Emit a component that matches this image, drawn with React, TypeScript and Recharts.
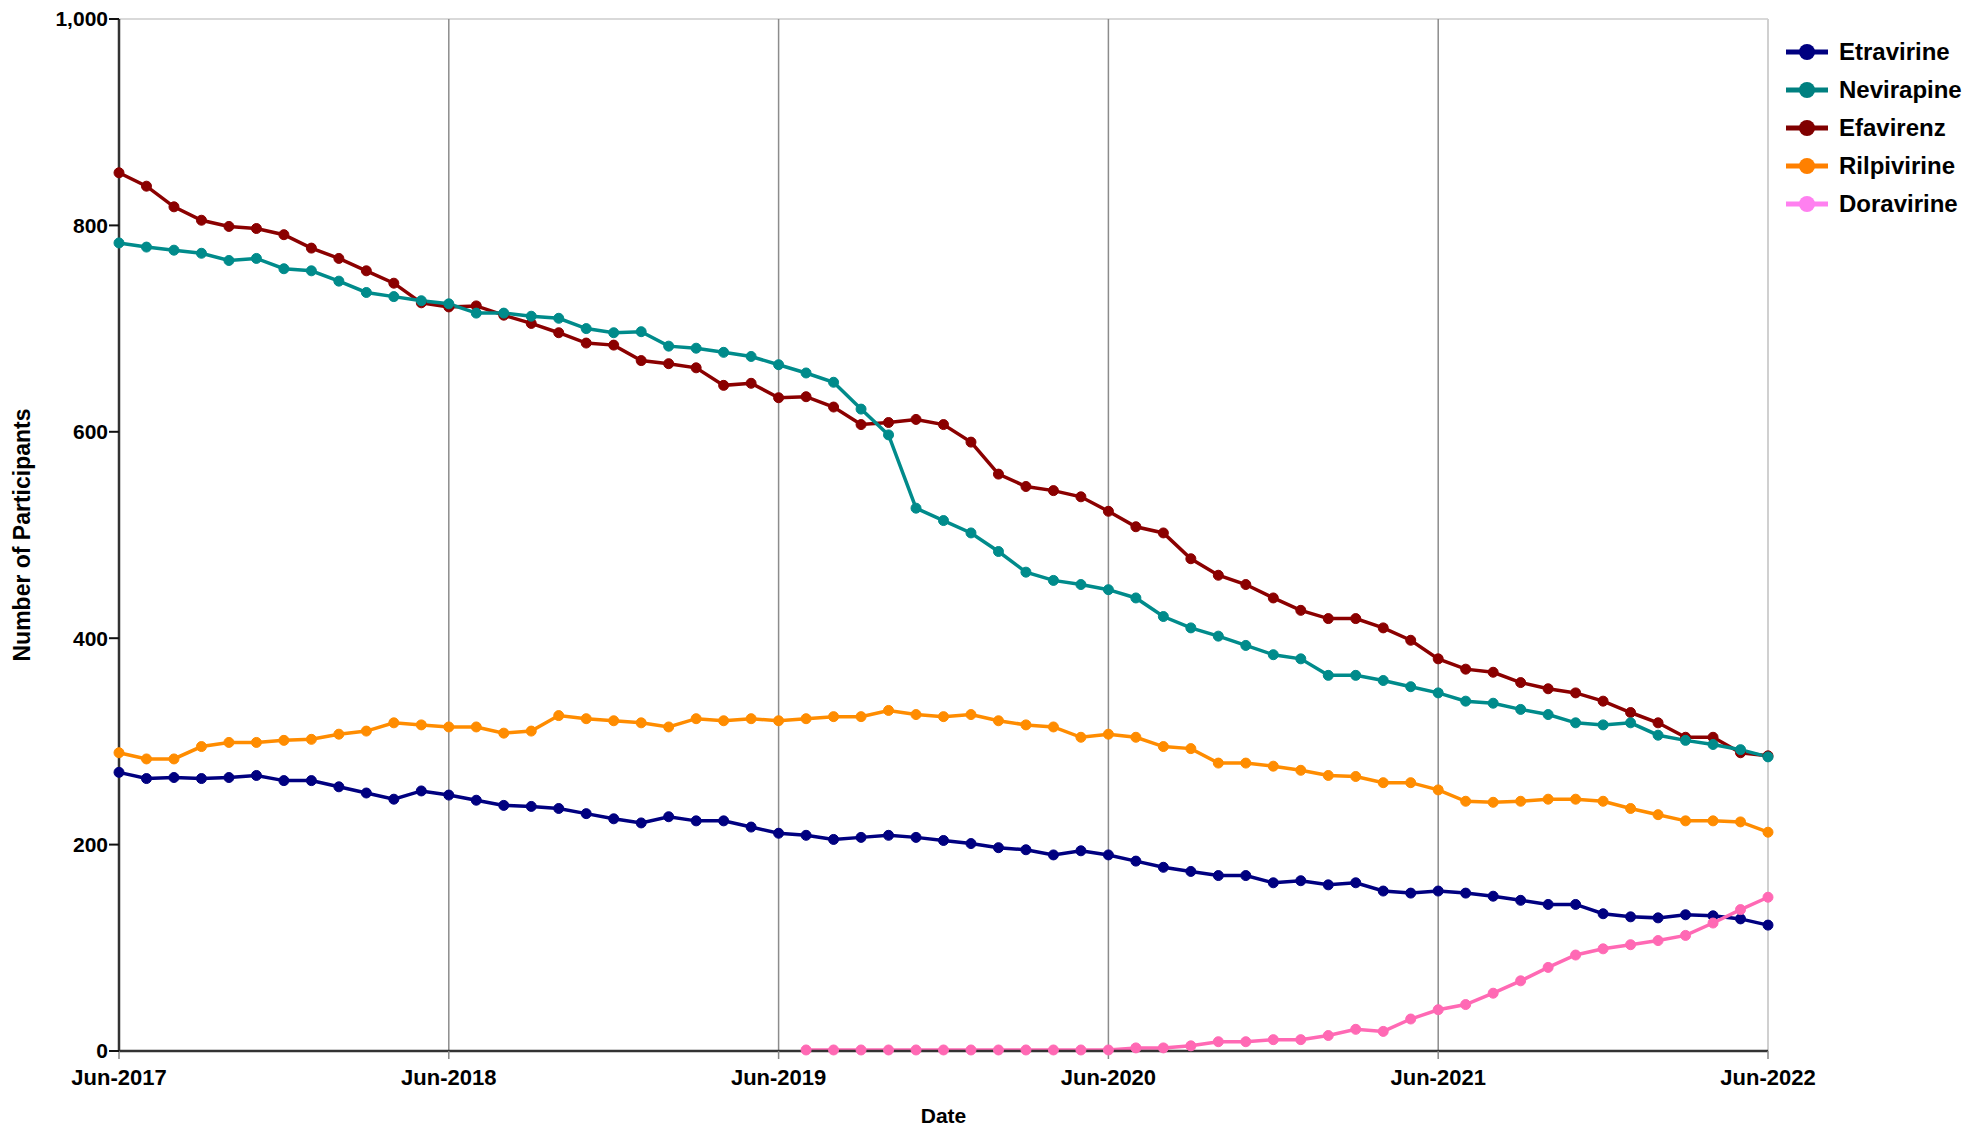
import React from 'react';
import { LineChart, Line, XAxis, YAxis, ReferenceLine, Legend } from 'recharts';

const FONT = '"Liberation Sans", Arial, Helvetica, sans-serif';

const monthNames = ['Jan', 'Feb', 'Mar', 'Apr', 'May', 'Jun', 'Jul', 'Aug', 'Sep', 'Oct', 'Nov', 'Dec'];
// Monthly categories Jun-2017 .. Jun-2022
const dates: string[] = [];
for (let i = 0; i <= 60; i++) {
  const m = (5 + i) % 12;
  const y = 2017 + Math.floor((5 + i) / 12);
  dates.push(`${monthNames[m]}-${y}`);
}

const xTicks = [0, 12, 24, 36, 48, 60];
const xTickLabels = ['Jun-2017', 'Jun-2018', 'Jun-2019', 'Jun-2020', 'Jun-2021', 'Jun-2022'];
const yTicks = [0, 200, 400, 600, 800, 1000];

const etravirine = [
  270, 264, 265, 264, 265, 267, 262, 262, 256, 250, 244, 252, 248, 243, 238, 237, 235, 230, 225, 221, 227, 223, 223, 217, 211,
  209, 205, 207, 209, 207, 204, 201, 197, 195, 190, 194, 190,
  184, 178, 174, 170, 170, 163, 165, 161, 163, 155, 153, 155,
  153, 150, 146, 142, 142, 133, 130, 129, 132, 131, 128, 122,
];

const nevirapine = [
  783, 779, 776, 773, 766, 768, 758, 756, 746, 735, 731, 727, 724, 715, 715, 712, 710,
  700, 696, 697, 683, 681, 677, 673, 665, 657, 648, 622, 597, 526, 514, 502,
  484, 464, 456, 452, 447, 439, 421, 410, 402, 393, 384, 380, 364, 364, 359, 353, 347,
  339, 337, 331, 326, 318, 316, 318, 306, 301, 297, 292, 285,
];

const efavirenz = [
  851, 838, 818, 805, 799, 797, 791, 778, 768, 756, 744, 725, 721, 722, 713, 705, 696,
  686, 684, 669, 666, 662, 645, 647, 633, 634, 624, 607, 609, 612, 607, 590,
  559, 547, 543, 537, 523, 508, 502, 477, 461, 452, 439, 427, 419, 419, 410, 398, 380,
  370, 367, 357, 351, 347, 339, 328, 318, 304, 304, 289, 286,
];

const rilpivirine = [
  289, 283, 283, 295, 299, 299, 301, 302, 307, 310, 318, 316, 314, 314, 308, 310, 325, 322, 320, 318, 314, 322, 320, 322, 320,
  322, 324, 324, 330, 326, 324, 326, 320, 316, 314, 304, 307, 304, 295, 293, 279, 279, 276, 272, 267, 266, 260, 260, 253,
  242, 241, 242, 244, 244, 242, 235, 229, 223, 223, 222, 212,
];

const doravirine: (number | null)[] = [
  null, null, null, null, null, null, null, null, null, null, null, null, null,
  null, null, null, null, null, null, null, null, null, null, null, null,
  1, 1, 1, 1, 1, 1, 1, 1, 1, 1, 1, 1,
  3, 3, 5, 9, 9, 11, 11, 15, 21, 19, 31, 40,
  45, 56, 68, 81, 93, 99, 103, 107, 112, 124, 137, 149,
];

const seriesNames = ['Etravirine', 'Nevirapine', 'Efavirenz', 'Rilpivirine', 'Doravirine'];
const seriesColors: Record<string, string> = {
  Etravirine: '#000080',
  Nevirapine: '#008B8B',
  Efavirenz: '#8B0000',
  Rilpivirine: '#FF8C00',
  Doravirine: '#FF69B4',
};
const legendColors: Record<string, string> = {
  Etravirine: '#000080',
  Nevirapine: '#008080',
  Efavirenz: '#800000',
  Rilpivirine: '#FF8000',
  Doravirine: '#FF80F0',
};
const drawOrder = ['Etravirine', 'Efavirenz', 'Nevirapine', 'Rilpivirine', 'Doravirine'];

const seriesValues: Record<string, (number | null)[]> = {
  Etravirine: etravirine,
  Nevirapine: nevirapine,
  Efavirenz: efavirenz,
  Rilpivirine: rilpivirine,
  Doravirine: doravirine,
};

const data = dates.map((d, i) => {
  const row: any = { idx: i, date: d };
  seriesNames.forEach((s) => {
    row[s] = seriesValues[s][i];
  });
  return row;
});

const LegendContent = () => (
  <div style={{ fontFamily: FONT }}>
    {seriesNames.map((s) => (
      <div key={s} style={{ display: 'flex', alignItems: 'center', height: 38 }}>
        <svg width={46} height={20} style={{ display: 'block' }}>
          <line x1={2} y1={10} x2={44} y2={10} stroke={legendColors[s]} strokeWidth={5} />
          <circle cx={23} cy={10} r={8} fill={legendColors[s]} />
        </svg>
        <span style={{ marginLeft: 9, fontSize: 24, fontWeight: 'bold', color: '#000', lineHeight: '38px', whiteSpace: 'nowrap' }}>{s}</span>
      </div>
    ))}
  </div>
);

const tickStyle = { fill: '#000', fontSize: 22, fontWeight: 'bold' as const, fontFamily: FONT };

export default function App() {
  return (
    <div style={{ position: 'absolute', left: 0, top: 0, width: 1986, height: 1128, background: '#fff' }}>
      <LineChart width={1986} height={1128} data={data} margin={{ top: 19, right: 218, left: 0, bottom: 0 }}>
        <ReferenceLine y={1000} stroke="#d9d9d9" strokeWidth={2} />
        {xTicks.slice(1, -1).map((t) => (
          <ReferenceLine key={t} x={t} stroke="#8c8c8c" strokeWidth={1.5} />
        ))}
        <ReferenceLine x={60} stroke="#d0d0d0" strokeWidth={2} />
        <XAxis
          dataKey="idx"
          type="number"
          domain={[0, 60]}
          ticks={xTicks}
          interval={0}
          tickFormatter={(v: number) => xTickLabels[xTicks.indexOf(v)]}
          height={77}
          stroke="#333"
          strokeWidth={2.5}
          tickLine={{ stroke: '#888', strokeWidth: 1.5 }}
          tickSize={8}
          tickMargin={10}
          tick={tickStyle}
          label={{
            content: (p: any) => {
              const vb = p.viewBox || {};
              const cx = vb.x + vb.width / 2;
              return (
                <text x={cx} y={vb.y + 64} textAnchor="middle" dominantBaseline="central"
                  style={{ fontSize: 21, fontWeight: 'bold', fontFamily: FONT, fill: '#000' }}>
                  Date
                </text>
              );
            },
          }}
        />
        <YAxis
          type="number"
          domain={[0, 1000]}
          ticks={yTicks}
          interval={0}
          width={119}
          stroke="#333"
          strokeWidth={2.5}
          tickLine={{ stroke: '#111', strokeWidth: 2 }}
          tickSize={10}
          tickMargin={1}
          tick={{ ...tickStyle, fontSize: 21 }}
          tickFormatter={(v: number) => v.toLocaleString('en-US')}
          label={{
            content: (p: any) => {
              const vb = p.viewBox || {};
              const x = vb.x + 22;
              const y = vb.y + vb.height / 2;
              return (
                <text x={x} y={y} transform={`rotate(-90 ${x} ${y})`} textAnchor="middle" dominantBaseline="central"
                  style={{ fontSize: 23, fontWeight: 'bold', fontFamily: FONT, fill: '#000' }}>
                  Number of Participants
                </text>
              );
            },
          }}
        />
        {drawOrder.map((s) => (
          <Line
            key={s}
            type="linear"
            dataKey={s}
            name={s}
            stroke={seriesColors[s]}
            strokeWidth={3.5}
            dot={{ r: 5, fill: seriesColors[s], stroke: seriesColors[s], strokeWidth: 1 }}
            activeDot={false}
            isAnimationActive={false}
            connectNulls={false}
          />
        ))}
        <Legend
          layout="horizontal"
          verticalAlign="middle"
          align="center"
          content={<LegendContent />}
          wrapperStyle={{ position: 'absolute', left: 1784, top: 33, width: 202, height: 190 }}
        />
      </LineChart>
    </div>
  );
}
